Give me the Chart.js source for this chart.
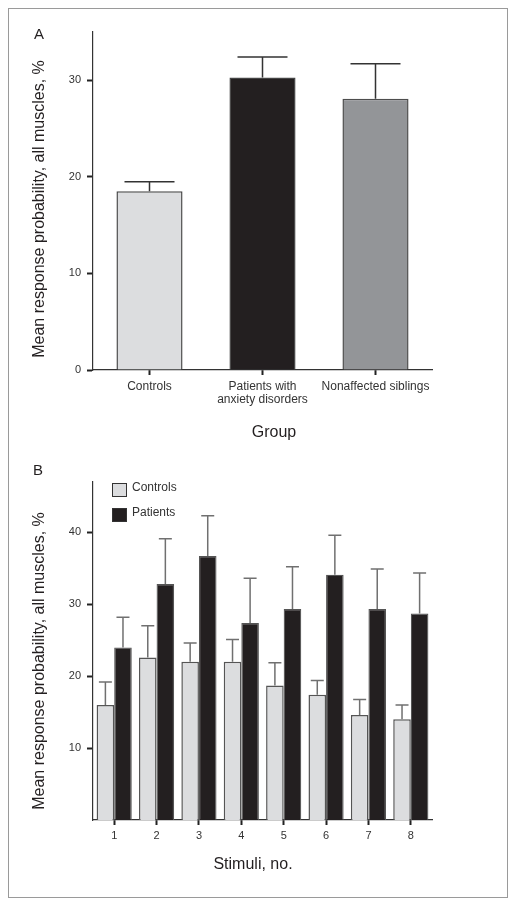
<!DOCTYPE html>
<html>
<head>
<meta charset="utf-8">
<script src="https://cdn.jsdelivr.net/npm/chart.js@4/dist/chart.umd.min.js"></script>
<style>
  html, body { margin: 0; padding: 0; background: #fff; }
  #wrap { position: relative; width: 516px; height: 906px; overflow: hidden; }
  #frame { position: absolute; left: 8px; top: 8px; width: 500px; height: 890px; border: 1.5px solid #9a9a9a; box-sizing: border-box; pointer-events: none; }
  canvas { position: absolute; left: 0; }
  #cA { top: 0; }
  #cB { top: 440px; }
</style>
</head>
<body>
<div id="wrap">
  <canvas id="cA" width="516" height="440"></canvas>
  <canvas id="cB" width="516" height="466"></canvas>
  <div id="frame"></div>
</div>
<script>
// ---- Panel A data ----
const groupsA = ['Controls', ['Patients with', 'anxiety disorders'], 'Nonaffected siblings'];
const meanA = [18.5, 30.3, 28.1];
const errTopA = [19.5, 32.4, 31.7];
const yTicksA = [0, 10, 20, 30];

// ---- Panel B data ----
const stimuli = ['1', '2', '3', '4', '5', '6', '7', '8'];
const controlsB = [16.0, 22.6, 22.0, 22.0, 18.7, 17.4, 14.6, 14.0];
const controlsErrTopB = [19.2, 27.0, 24.6, 25.1, 21.85, 19.4, 16.75, 16.0];
const patientsB = [24.0, 32.8, 36.7, 27.4, 29.35, 34.1, 29.35, 28.7];
const patientsErrTopB = [28.2, 39.1, 42.3, 33.6, 35.2, 39.6, 34.9, 34.35];
const yTicksB = [10, 20, 30, 40];

const FONT = '"Liberation Sans", Arial, Helvetica, sans-serif';
Chart.defaults.font.family = FONT;
Chart.defaults.color = '#333';

const errorBars = {
  id: 'errorBars',
  afterDatasetsDraw(chart, args, opts) {
    const ctx = chart.ctx;
    const y = chart.scales.y;
    chart.data.datasets.forEach((ds, di) => {
      const meta = chart.getDatasetMeta(di);
      if (!ds.errTop) return;
      meta.data.forEach((bar, i) => {
        const top = y.getPixelForValue(ds.errTop[i]);
        const x = bar.x;
        ctx.save();
        ctx.strokeStyle = opts.color;
        ctx.lineWidth = opts.width;
        ctx.beginPath();
        ctx.moveTo(x, bar.y);
        ctx.lineTo(x, top);
        ctx.moveTo(x - opts.cap / 2, top);
        ctx.lineTo(x + opts.cap / 2, top);
        ctx.stroke();
        ctx.restore();
      });
    });
  }
};

const annotations = {
  id: 'annotations',
  afterDraw(chart, args, opts) {
    const ctx = chart.ctx;
    ctx.save();
    ctx.fillStyle = '#231f20';
    ctx.font = '15px ' + FONT;
    ctx.textAlign = 'left';
    ctx.textBaseline = 'middle';
    ctx.fillText(opts.letter, opts.letterX, opts.letterY);
    ctx.font = '16px ' + FONT;
    ctx.textAlign = 'center';
    ctx.fillText(opts.xTitle, opts.xTitleX, opts.xTitleY);
    ctx.translate(opts.yTitleX, opts.yTitleY);
    ctx.rotate(-Math.PI / 2);
    ctx.fillText(opts.yTitle, 0, 0);
    ctx.restore();
    if (opts.legend) {
      ctx.save();
      ctx.font = '12px ' + FONT;
      ctx.textAlign = 'left';
      ctx.textBaseline = 'middle';
      chart.data.datasets.forEach((ds, i) => {
        const bx = opts.legendX, by = opts.legendY + i * opts.legendGap;
        ctx.fillStyle = ds.backgroundColor;
        ctx.fillRect(bx, by, 15, 14);
        ctx.strokeStyle = '#333';
        ctx.lineWidth = 1;
        ctx.strokeRect(bx + 0.5, by + 0.5, 14, 13);
        ctx.fillStyle = '#333';
        ctx.fillText(ds.label, bx + 20, by + 5);
      });
      ctx.restore();
    }
  }
};

function yScale(max, ticks, width) {
  return {
    min: 0, max: max,
    afterBuildTicks: (s) => { s.ticks = ticks.map(v => ({ value: v })); },
    afterFit: (s) => { s.width = width; },
    border: { display: true, color: '#333', width: 1.2 },
    grid: { display: true, drawOnChartArea: false, drawTicks: true, tickLength: 6, tickWidth: 2, tickColor: '#222' },
    ticks: { font: { size: 11 }, color: '#333', padding: 6 }
  };
}
function xScale(height, fontSize) {
  return {
    afterFit: (s) => { s.height = height; },
    border: { display: true, color: '#333', width: 1.2 },
    grid: { display: true, offset: false, drawOnChartArea: false, drawTicks: true, tickLength: 5, tickWidth: 2, tickColor: '#222' },
    ticks: { font: { size: fontSize, lineHeight: 1.1 }, color: '#333', padding: 5, maxRotation: 0, autoSkip: false }
  };
}

new Chart(document.getElementById('cA'), {
  type: 'bar',
  data: {
    labels: groupsA,
    datasets: [{
      label: 'Mean',
      data: meanA,
      errTop: errTopA,
      backgroundColor: ['#dcdddf', '#231f20', '#939598'],
      borderColor: ['#4d4d4d', '#444', '#4d4d4d'],
      borderWidth: 1.5,
      barPercentage: 0.585,
      categoryPercentage: 1
    }]
  },
  options: {
    responsive: false,
    animation: false,
    layout: { padding: { top: 32, right: 84, left: 0, bottom: 0 } },
    plugins: {
      legend: { display: false },
      tooltip: { enabled: false },
      errorBars: { color: '#333', width: 1.5, cap: 50 },
      annotations: {
        letter: 'A', letterX: 34, letterY: 35,
        xTitle: 'Group', xTitleX: 274, xTitleY: 433,
        yTitle: 'Mean response probability, all muscles, %', yTitleX: 40, yTitleY: 209
      }
    },
    scales: { x: xScale(70, 12), y: yScale(35, yTicksA, 93) }
  },
  plugins: [errorBars, annotations]
});

new Chart(document.getElementById('cB'), {
  type: 'bar',
  data: {
    labels: stimuli,
    datasets: [{
      label: 'Controls',
      data: controlsB,
      errTop: controlsErrTopB,
      backgroundColor: '#dcdddf',
      borderColor: '#555',
      borderWidth: 1.5,
      barPercentage: 1,
      categoryPercentage: 0.83
    }, {
      label: 'Patients',
      data: patientsB,
      errTop: patientsErrTopB,
      backgroundColor: '#231f20',
      borderColor: '#555',
      borderWidth: 1.2,
      barPercentage: 1,
      categoryPercentage: 0.83
    }]
  },
  options: {
    responsive: false,
    animation: false,
    layout: { padding: { top: 42, right: 84, left: 0, bottom: 0 } },
    plugins: {
      legend: { display: false },
      tooltip: { enabled: false },
      errorBars: { color: '#707070', width: 1.5, cap: 13 },
      annotations: {
        letter: 'B', letterX: 33, letterY: 31,
        xTitle: 'Stimuli, no.', xTitleX: 253, xTitleY: 425,
        yTitle: 'Mean response probability, all muscles, %', yTitleX: 40, yTitleY: 221,
        legend: true, legendX: 112, legendY: 43, legendGap: 25
      }
    },
    scales: { x: xScale(86, 11), y: yScale(47, yTicksB, 93) }
  },
  plugins: [errorBars, annotations]
});
</script>
</body>
</html>
